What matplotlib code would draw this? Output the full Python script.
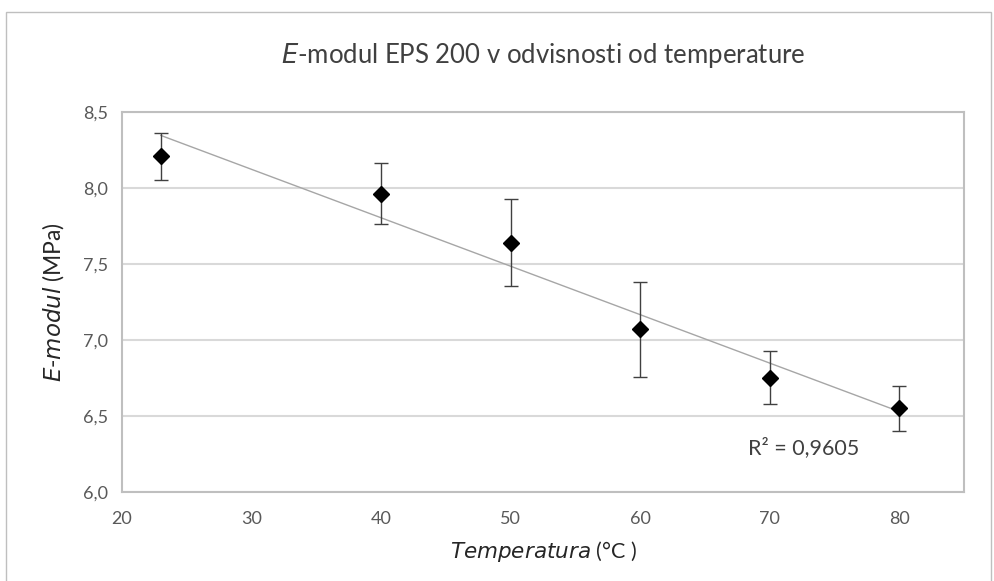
import numpy as np
import matplotlib
matplotlib.use("Agg")
import matplotlib.pyplot as plt
from matplotlib.patches import Rectangle

temperature = [23, 40, 50, 60, 70, 80]
e_modul = [8.21, 7.96, 7.64, 7.07, 6.75, 6.555]
err_upper = [8.365, 8.163, 7.932, 7.383, 6.929, 6.70]
err_lower = [8.053, 7.764, 7.359, 6.754, 6.577, 6.399]
x_ticks = [20, 30, 40, 50, 60, 70, 80]
y_ticks = [6.0, 6.5, 7.0, 7.5, 8.0, 8.5]
r2_label = "R² = 0,9605"

plt.rcParams['font.family'] = ['Lato', 'DejaVu Sans']

fig = plt.figure(figsize=(9.94, 5.81), dpi=100)
ax = fig.add_axes([0.1227, 0.1532, 0.8473, 0.6535])

# outer chart border
fig.patches.append(Rectangle((6 / 994, -0.05), 985 / 994, 1 - 12 / 581 + 0.05,
                             transform=fig.transFigure, fill=False,
                             edgecolor='#bfbfbf', linewidth=1.0))

y = np.array(e_modul)
yerr = [y - np.array(err_lower), np.array(err_upper) - y]
ax.errorbar(temperature, e_modul, yerr=yerr, fmt='none', ecolor='#404040',
            elinewidth=1.0, capsize=4.8, capthick=1.0, zorder=3)
ax.plot(temperature, e_modul, linestyle='none', marker='D', markersize=8,
        color='black', zorder=4)

# linear trend line
k, n = np.polyfit(temperature, e_modul, 1)
xs = np.array([temperature[0], temperature[-1]])
ax.plot(xs, k * xs + n, color='#a6a6a6', linewidth=1.0, zorder=2)

ax.text(68.3, 6.29, r2_label, fontsize=15.5, color='#404040', va='center', ha='left')

ax.set_xlim(20, 85)
ax.set_ylim(6.0, 8.5)
ax.set_xticks(x_ticks)
ax.set_yticks(y_ticks)
ax.set_yticklabels([f"{v:.1f}".replace('.', ',') for v in y_ticks])
ax.tick_params(length=0, labelsize=13, labelcolor='#595959')
ax.tick_params(axis='x', pad=14)
ax.tick_params(axis='y', pad=10)
ax.grid(axis='y', color='#d9d9d9', linewidth=1.5)
ax.set_axisbelow(True)
for s in ax.spines.values():
    s.set_color('#bfbfbf')
    s.set_linewidth(1.5)

ax.set_xlabel(r"$\it{Temperatura}$ (°C )", fontsize=15.5, color='#262626', labelpad=8)
ax.set_ylabel(r"$\it{E}$-$\it{modul}$ (MPa)", fontsize=16.5, color='#262626', labelpad=12)
fig.text(543 / 994, 1 - 55 / 581, r"$\it{E}$-modul EPS 200 v odvisnosti od temperature",
         fontsize=18.5, color='#404040', ha='center', va='center')

fig.savefig("out.png", dpi=100)
